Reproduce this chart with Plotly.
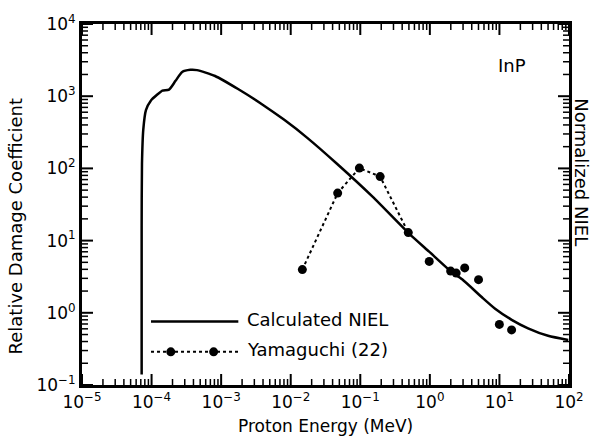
import math
import plotly.graph_objects as go

# ---- data ----
niel_energy = [7.2e-5, 7.2e-5, 7.28e-5, 7.6e-5, 8.3e-5, 9.8e-5, 1.21e-4, 1.43e-4, 1.78e-4,
               2.21e-4, 2.75e-4, 3.61e-4, 4.49e-4, 8.18e-4, 1.75e-3, 3.76e-3, 8.07e-3,
               1.73e-2, 4.62e-2, 0.15, 0.508, 0.977, 1.99, 2.91, 5.61, 8.67, 15.0, 25.8, 50.0, 97.5]
niel_value = [0.14, 16, 116, 344, 641, 875, 1054, 1194, 1233,
              1631, 2158, 2317, 2296, 1905, 1257, 788, 470,
              265, 116, 40.6, 12.4, 7.03, 3.78, 2.91, 1.64, 1.14, 0.80, 0.61, 0.48, 0.42]

yam_energy_line = [0.0147, 0.0473, 0.097, 0.193, 0.49]
yam_value_line = [3.97, 45.5, 101, 77, 12.9]
yam_energy_pts = [0.98, 1.99, 2.39, 3.17, 5.01, 9.98, 14.96]
yam_value_pts = [5.15, 3.78, 3.55, 4.19, 2.88, 0.69, 0.58]

x_tickvals = [1e-5, 1e-4, 1e-3, 1e-2, 1e-1, 1e0, 1e1, 1e2]
x_ticktext = ["10<sup>−5</sup>", "10<sup>−4</sup>", "10<sup>−3</sup>", "10<sup>−2</sup>",
              "10<sup>−1</sup>", "10<sup>0</sup>", "10<sup>1</sup>", "10<sup>2</sup>"]
y_tickvals = [1e-1, 1e0, 1e1, 1e2, 1e3, 1e4]
y_ticktext = ["10<sup>−1</sup>", "10<sup>0</sup>", "10<sup>1</sup>", "10<sup>2</sup>",
              "10<sup>3</sup>", "10<sup>4</sup>"]
minor_multipliers = [2, 3, 4, 5, 6, 7, 8, 9]

legend_labels = ["Calculated NIEL", "Yamaguchi (22)"]
FONT = "DejaVu Sans"
X_RANGE = [-5, 2]
Y_RANGE = [-1, 4]

fig = go.Figure()
fig.add_trace(go.Scatter(x=niel_energy, y=niel_value, mode="lines",
                         line=dict(color="black", width=2.5, shape="spline", smoothing=0.6),
                         showlegend=False))
fig.add_trace(go.Scatter(x=yam_energy_line, y=yam_value_line, mode="lines+markers",
                         line=dict(color="black", width=2, dash="dot"),
                         marker=dict(color="black", size=9), showlegend=False))
fig.add_trace(go.Scatter(x=yam_energy_pts, y=yam_value_pts, mode="markers",
                         marker=dict(color="black", size=9), showlegend=False))

main_axis = dict(type="log", showline=True, linecolor="black", linewidth=3, mirror=True,
                 ticks="", showgrid=False, zeroline=False,
                 tickfont=dict(family=FONT, size=17, color="black"))

fig.update_layout(
    xaxis=dict(range=X_RANGE, tickvals=x_tickvals, ticktext=x_ticktext, **main_axis),
    yaxis=dict(range=Y_RANGE, tickvals=y_tickvals, ticktext=y_ticktext, **main_axis),
)

# ---- inward tick marks, placed from the tick value lists via the axis range ----
x_minor = [m * d for d in x_tickvals[:-1] for m in minor_multipliers]
y_minor = [m * d for d in y_tickvals[:-1] for m in minor_multipliers]


def frac(v, rng):
    return (math.log10(v) - rng[0]) / (rng[1] - rng[0])


shapes = []
for vals, length, width in ((x_tickvals, 11, 2), (x_minor, 6, 1.5)):
    for v in vals:
        f = frac(v, X_RANGE)
        for anchor, sign in ((0, 1), (1, -1)):
            shapes.append(dict(type="line", xref="x domain", yref="y domain",
                               ysizemode="pixel", yanchor=anchor, x0=f, x1=f,
                               y0=0, y1=sign * length, layer="above",
                               line=dict(color="black", width=width)))
for vals, length, width in ((y_tickvals, 11, 2), (y_minor, 6, 1.5)):
    for v in vals:
        f = frac(v, Y_RANGE)
        for anchor, sign in ((0, 1), (1, -1)):
            shapes.append(dict(type="line", xref="x domain", yref="y domain",
                               xsizemode="pixel", xanchor=anchor, y0=f, y1=f,
                               x0=0, x1=sign * length, layer="above",
                               line=dict(color="black", width=width)))

# legend (drawn in paper coordinates)
lx0, lx1, ltext = 0.1417, 0.321, 0.3348
ly_solid, ly_dot = 0.1757, 0.0919
shapes += [
    dict(type="line", xref="paper", yref="paper", x0=lx0, x1=lx1, y0=ly_solid, y1=ly_solid,
         line=dict(color="black", width=2.5)),
    dict(type="line", xref="paper", yref="paper", x0=lx0, x1=lx1, y0=ly_dot, y1=ly_dot,
         line=dict(color="black", width=2, dash="dot")),
]
for mx in (0.1823, 0.2703):
    shapes.append(dict(type="circle", xref="paper", yref="paper",
                       xsizemode="pixel", ysizemode="pixel",
                       xanchor=mx, yanchor=ly_dot, x0=-4.5, x1=4.5, y0=-4.5, y1=4.5,
                       fillcolor="black", line=dict(color="black", width=0)))

annotations = [
    dict(text=legend_labels[0], x=ltext, y=ly_solid + 0.006, xref="paper", yref="paper",
         xanchor="left", yanchor="middle", showarrow=False,
         font=dict(family=FONT, size=18, color="black")),
    dict(text=legend_labels[1], x=ltext, y=ly_dot + 0.006, xref="paper", yref="paper",
         xanchor="left", yanchor="middle", showarrow=False,
         font=dict(family=FONT, size=18, color="black")),
    dict(text="InP", x=0.882, y=0.884, xref="paper", yref="paper",
         xanchor="center", yanchor="middle", showarrow=False,
         font=dict(family=FONT, size=18, color="black")),
    dict(text="Relative Damage Coefficient", x=-0.137, y=0.44, xref="paper", yref="paper",
         xanchor="center", yanchor="middle", textangle=-90, showarrow=False,
         font=dict(family=FONT, size=18, color="black")),
    dict(text="Normalized NIEL", x=1.025, y=0.589, xref="paper", yref="paper",
         xanchor="center", yanchor="middle", textangle=90, showarrow=False,
         font=dict(family=FONT, size=18, color="black")),
    dict(text="Proton Energy (MeV)", x=0.5, y=-0.1135, xref="paper", yref="paper",
         xanchor="center", yanchor="middle", showarrow=False,
         font=dict(family=FONT, size=17, color="black")),
]

fig.update_layout(width=596, height=441, margin=dict(l=82, r=22, t=15, b=56),
                  plot_bgcolor="white", paper_bgcolor="white",
                  shapes=shapes, annotations=annotations)

fig.write_html("out.html")
